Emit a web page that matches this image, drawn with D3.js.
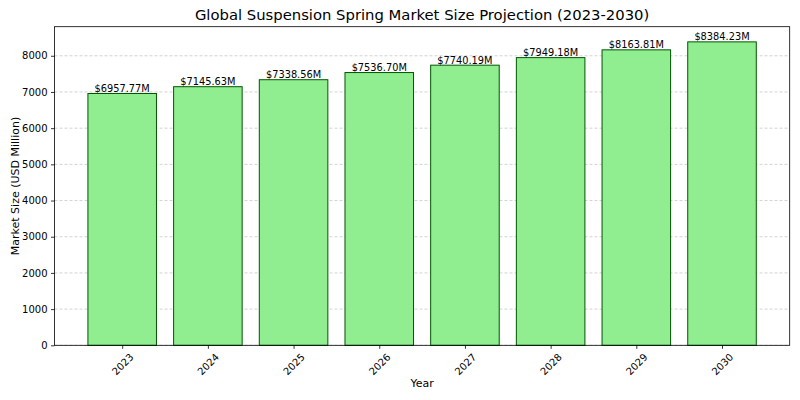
<!DOCTYPE html>
<html>
<head>
<meta charset="utf-8">
<script src="https://cdn.jsdelivr.net/npm/d3@7"></script>
<style>
  body { margin: 0; background: #fff; }
  svg { font-family: "DejaVu Sans", sans-serif; }
</style>
</head>
<body>
<script>
// chart data
const years = ['2023', '2024', '2025', '2026', '2027', '2028', '2029', '2030'];
const marketSize = [6957.77, 7145.63, 7338.56, 7536.70, 7740.19, 7949.18, 8163.81, 8384.23];
const yTicks = [0, 1000, 2000, 3000, 4000, 5000, 6000, 7000, 8000];

const W = 800, H = 400;
const plot = { left: 54.5, right: 789.7, top: 26.7, bottom: 345.3 };

const svg = d3.select('body').append('svg')
    .attr('width', W)
    .attr('height', H);

// x on bar index, matplotlib style margins
let n = years.length;
let pad = 0.05 * (n - 1 + 0.8);
let x = d3.scaleLinear()
    .domain([-0.4 - pad, n - 1 + 0.4 + pad])
    .range([plot.left, plot.right]);

let y = d3.scaleLinear()
    .domain([0, d3.max(marketSize) * 1.05])
    .range([plot.bottom, plot.top]);

// grid
svg.append('g')
    .selectAll('line')
    .data(yTicks)
    .enter()
    .append('line')
    .attr('x1', plot.left)
    .attr('x2', plot.right)
    .attr('y1', d => y(d))
    .attr('y2', d => y(d))
    .attr('stroke', '#c8c8c8')
    .attr('stroke-width', 0.8)
    .attr('stroke-dasharray', '3,2');

// bars
let bw = x(0.8) - x(0);
svg.append('g')
    .selectAll('rect')
    .data(marketSize)
    .enter()
    .append('rect')
    .attr('x', (d, i) => x(i) - bw / 2)
    .attr('y', d => y(d))
    .attr('width', bw)
    .attr('height', d => plot.bottom - y(d))
    .attr('fill', '#90ee90')
    .attr('stroke', '#005500')
    .attr('stroke-width', 1);

// value labels
svg.append('g')
    .selectAll('text')
    .data(marketSize)
    .enter()
    .append('text')
    .attr('x', (d, i) => x(i))
    .attr('y', d => y(d) - 1.5)
    .attr('text-anchor', 'middle')
    .attr('font-size', '9.8px')
    .attr('fill', '#000')
    .text(d => '$' + d.toFixed(2) + 'M');

// y axis
let yAxis = svg.append('g')
    .attr('transform', `translate(${plot.left},0)`)
    .call(d3.axisLeft(y).tickValues(yTicks).tickSize(3.5).tickPadding(3.5).tickFormat(d3.format('d')));
yAxis.select('.domain').remove();
yAxis.selectAll('text').attr('font-size', '10px').attr('font-family', 'DejaVu Sans').attr('fill', '#000');
yAxis.selectAll('line').attr('stroke', '#000').attr('stroke-width', 0.8);

// x axis
let xAxis = svg.append('g')
    .attr('transform', `translate(0,${plot.bottom})`)
    .call(d3.axisBottom(x).tickValues(d3.range(n)).tickSize(3.5).tickFormat(i => years[i]));
xAxis.select('.domain').remove();
xAxis.selectAll('line').attr('stroke', '#000').attr('stroke-width', 0.8);
xAxis.selectAll('text')
    .attr('font-size', '10px')
    .attr('font-family', 'DejaVu Sans')
    .attr('fill', '#000')
    .attr('x', 0)
    .attr('y', 19)
    .attr('dy', '0.35em')
    .attr('text-anchor', 'middle')
    .attr('transform', 'rotate(-45, 0, 19)');

// frame
svg.append('rect')
    .attr('x', plot.left)
    .attr('y', plot.top)
    .attr('width', plot.right - plot.left)
    .attr('height', plot.bottom - plot.top)
    .attr('fill', 'none')
    .attr('stroke', '#000')
    .attr('stroke-width', 0.8);

// title and axis labels
svg.append('text')
    .attr('x', (plot.left + plot.right) / 2)
    .attr('y', 20)
    .attr('text-anchor', 'middle')
    .attr('font-size', '14.8px')
    .text('Global Suspension Spring Market Size Projection (2023-2030)');

svg.append('text')
    .attr('x', (plot.left + plot.right) / 2)
    .attr('y', 387)
    .attr('text-anchor', 'middle')
    .attr('font-size', '11px')
    .text('Year');

svg.append('text')
    .attr('transform', `translate(19,${(plot.top + plot.bottom) / 2}) rotate(-90)`)
    .attr('text-anchor', 'middle')
    .attr('font-size', '11px')
    .text('Market Size (USD Million)');
</script>
</body>
</html>
